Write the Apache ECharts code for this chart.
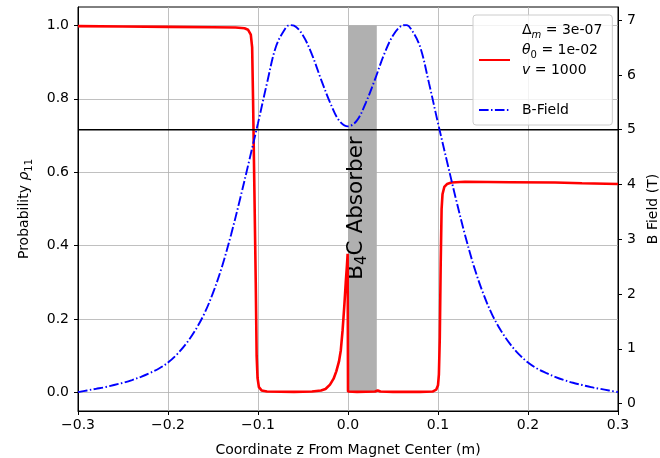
<!DOCTYPE html>
<html><head><meta charset="utf-8">
<script src="https://cdn.jsdelivr.net/npm/echarts@6/dist/echarts.min.js"></script>
<style>html,body{margin:0;padding:0;background:#fff}#c{width:660px;height:458px}</style>
</head><body><div id="c"></div>
<script>
// ---- data ----
const xTickValues = [-0.3, -0.2, -0.1, 0.0, 0.1, 0.2, 0.3];
const probTickValues = [0.0, 0.2, 0.4, 0.6, 0.8, 1.0];
const bTickValues = [0, 1, 2, 3, 4, 5, 6, 7];

const bFieldZ = [-0.30,-0.29,-0.28,-0.27,-0.26,-0.25,-0.24,-0.23,-0.22,-0.21,-0.20,-0.19,-0.18,-0.17,-0.16,-0.15,-0.14,-0.13,-0.12,-0.11,-0.10,-0.09,-0.08,-0.07,-0.065,-0.06,-0.05,-0.04,-0.03,-0.02,-0.01,
  0.00,0.01,0.02,0.03,0.04,0.05,0.06,0.065,0.07,0.08,0.09,0.10,0.11,0.12,0.13,0.14,0.15,0.16,0.17,0.18,0.19,0.20,0.21,0.22,0.23,0.24,0.25,0.26,0.27,0.28,0.29,0.30];
const bFieldT = [0.21,0.24,0.27,0.30,0.34,0.38,0.43,0.49,0.56,0.64,0.75,0.90,1.09,1.33,1.63,2.02,2.50,3.08,3.73,4.42,5.12,5.85,6.52,6.84,6.91,6.90,6.72,6.37,5.92,5.50,5.17,
  5.06,5.17,5.50,5.92,6.37,6.72,6.90,6.91,6.84,6.52,5.85,5.12,4.42,3.73,3.08,2.50,2.02,1.63,1.33,1.09,0.90,0.75,0.64,0.56,0.49,0.43,0.38,0.34,0.30,0.27,0.24,0.21];

const probZ = [-0.300,-0.250,-0.200,-0.150,-0.125,-0.115,-0.111,-0.108,-0.1065,-0.1055,-0.104,-0.1025,-0.1015,-0.1005,-0.099,-0.096,-0.090,-0.060,-0.040,-0.030,-0.025,-0.020,-0.016,-0.013,-0.010,-0.008,-0.006,-0.005,-0.004,-0.0025,-0.0012,-0.0004,
  0.000,0.002,0.010,0.030,0.033,0.036,0.050,0.080,0.094,0.098,0.100,0.101,0.102,0.103,0.104,0.105,0.107,0.110,0.115,0.130,0.180,0.230,0.260,0.300];
const probRho = [0.998,0.997,0.996,0.995,0.994,0.992,0.988,0.975,0.94,0.80,0.55,0.30,0.10,0.04,0.015,0.006,0.003,0.002,0.003,0.006,0.010,0.022,0.038,0.058,0.085,0.115,0.17,0.205,0.24,0.30,0.345,0.378,
  0.003,0.002,0.002,0.003,0.006,0.003,0.002,0.002,0.003,0.008,0.02,0.05,0.15,0.35,0.50,0.54,0.56,0.568,0.572,0.574,0.573,0.572,0.570,0.568];

const thresholdB = 5;
const absorberZ = [0.0, 0.032];
const absorberTop = 1.0;

// ---- chart ----
const FONT = 'DejaVu Sans';
const chart = echarts.init(document.getElementById('c'), null, {renderer: 'canvas'});
const minus = v => (Math.abs(v) < 1e-9 ? '0.0' : (v < 0 ? '\u2212' : '') + Math.abs(v).toFixed(1));
const subRich = {
  n: {fontSize: 14, fontFamily: FONT, color: '#000', lineHeight: 20},
  i: {fontSize: 14, fontFamily: FONT, color: '#000', fontStyle: 'italic', lineHeight: 20},
  s: {fontSize: 10, fontFamily: FONT, color: '#000', lineHeight: 12, verticalAlign: 'bottom'},
  si: {fontSize: 10, fontFamily: FONT, color: '#000', fontStyle: 'italic', lineHeight: 12, verticalAlign: 'bottom'}
};

const option = {
  animation: false,
  backgroundColor: '#fff',
  textStyle: {fontFamily: FONT},
  grid: {left: 78, right: 42, top: 7, bottom: 47, show: true, borderColor: '#000', borderWidth: 1, backgroundColor: '#fff',
         containLabel: false, outerBoundsMode: 'none'},
  legend: {
    show: true, orient: 'vertical', left: 473, top: 15,
    selectedMode: false,
    data: ['rho', 'B-Field'],
    itemWidth: 31, itemHeight: 14, itemGap: 0,
    padding: [5, 10, 5, 5],
    backgroundColor: 'rgba(255,255,255,0.8)', borderColor: '#cccccc', borderWidth: 1, borderRadius: 3,
    itemStyle: {opacity: 0},
    textStyle: {fontSize: 14, fontFamily: FONT, color: '#000', lineHeight: 20, padding: [0, 0, 0, 7], rich: subRich},
    formatter: name => name === 'rho'
      ? '{n|\u0394}{si|m}{n| = 3e-07}\n{i|\u03b8}{s|0}{n| = 1e-02}\n{i|v}{n| = 1000}\n{n| }'
      : '{n|B-Field}'
  },
  xAxis: {
    type: 'value', min: -0.3, max: 0.3, interval: 0.1,
    axisLine: {onZero: false, lineStyle: {color: '#000', width: 1}},
    axisTick: {show: true, length: 4, lineStyle: {color: '#000'}},
    axisLabel: {margin: 7, fontSize: 14, color: '#000', fontFamily: FONT, formatter: minus, customValues: xTickValues},
    splitLine: {show: true, lineStyle: {color: '#b0b0b0', width: 0.8}},
    name: 'Coordinate z From Magnet Center (m)', nameLocation: 'middle', nameGap: 32,
    nameTextStyle: {fontSize: 14, color: '#000', fontFamily: FONT}
  },
  yAxis: [{
    type: 'value', position: 'left', min: -0.05, max: 1.05,
    axisLine: {show: true, onZero: false, lineStyle: {color: '#000', width: 1}},
    axisTick: {show: true, length: 4, lineStyle: {color: '#000'}, customValues: probTickValues},
    axisLabel: {margin: 9, fontSize: 14, color: '#000', fontFamily: FONT, formatter: v => v.toFixed(1), customValues: probTickValues},
    splitLine: {show: true, lineStyle: {color: '#b0b0b0', width: 0.8}},
    name: '{n|Probability }{i|\u03c1}{s|11}', nameLocation: 'middle', nameGap: 44,
    nameTextStyle: {fontSize: 14, color: '#000', fontFamily: FONT, rich: subRich}
  }, {
    type: 'value', position: 'right', min: -0.135, max: 7.24,
    axisLine: {show: true, onZero: false, lineStyle: {color: '#000', width: 1}},
    axisTick: {show: true, length: 4, lineStyle: {color: '#000'}, customValues: bTickValues},
    axisLabel: {margin: 9, fontSize: 14, color: '#000', fontFamily: FONT, customValues: bTickValues},
    splitLine: {show: false},
    name: 'B Field (T)', nameLocation: 'middle', nameGap: 25,
    nameTextStyle: {fontSize: 14, color: '#000', fontFamily: FONT}
  }],
  series: [{
    name: 'absorber', type: 'line', yAxisIndex: 0, data: [], z: 1, silent: true,
    markArea: {
      silent: true,
      itemStyle: {color: '#b0b0b0', opacity: 1},
      label: {
        show: true, position: 'inside', rotate: 90, color: '#000', offset: [1, -6],
        formatter: '{t|B}{u|4}{t|C Absorber}',
        rich: {
          t: {fontSize: 21.5, fontFamily: FONT, color: '#000', lineHeight: 26},
          u: {fontSize: 15, fontFamily: FONT, color: '#000', lineHeight: 17, verticalAlign: 'bottom'}
        }
      },
      data: [[{xAxis: absorberZ[0], yAxis: 0}, {xAxis: absorberZ[1], yAxis: absorberTop}]]
    }
  }, {
    name: 'rho', type: 'line', yAxisIndex: 0, z: 2,
    data: probZ.map((z, i) => [z, probRho[i]]),
    showSymbol: false, symbol: 'none',
    color: '#ff0000',
    lineStyle: {color: '#ff0000', width: 2.6}
  }, {
    name: 'B-Field', type: 'line', yAxisIndex: 1, z: 4,
    data: bFieldZ.map((z, i) => [z, bFieldT[i]]),
    showSymbol: false, symbol: 'none', smooth: 0.35,
    color: '#0000ff',
    lineStyle: {color: '#0000ff', width: 1.9, type: [9.6, 2.4, 1.5, 2.4]}
  }, {
    name: 'threshold', type: 'line', yAxisIndex: 1, z: 3,
    data: [[-0.3, thresholdB], [0.3, thresholdB]],
    showSymbol: false, symbol: 'none', color: '#000',
    lineStyle: {color: '#000', width: 1.6}
  }]
};
chart.setOption(option);
</script>
</body></html>
